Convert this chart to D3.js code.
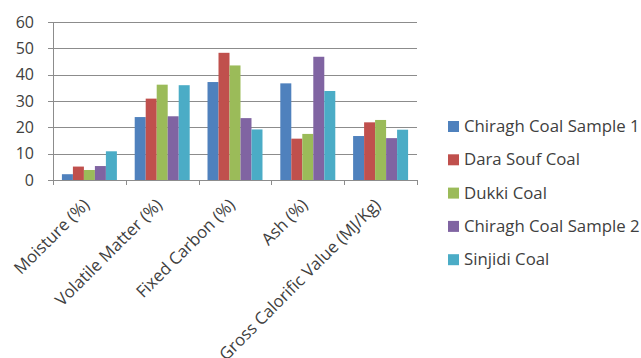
<!DOCTYPE html>
<html><head><meta charset="utf-8">
<script src="https://cdn.jsdelivr.net/npm/d3@7"></script>
<style>body{margin:0;background:#fff}svg{display:block}</style>
</head><body><svg id="c" width="641" height="358"></svg>
<script>
const categories = ["Moisture (%)", "Volatile Matter (%)", "Fixed Carbon (%)", "Ash (%)", "Gross Calorific Value (MJ/Kg)"];
const seriesNames = ["Chiragh Coal Sample 1", "Dara Souf Coal", "Dukki Coal", "Chiragh Coal Sample 2", "Sinjidi Coal"];
const chiragh1 = [2.2, 23.9, 37.2, 36.7, 16.7];
const daraSouf = [5.1, 30.9, 48.3, 15.7, 21.9];
const dukki = [3.8, 36.2, 43.5, 17.5, 22.8];
const chiragh2 = [5.3, 24.2, 23.5, 46.8, 15.9];
const sinjidi = [10.9, 36.0, 19.2, 33.8, 19.1];
const yTicks = [0, 10, 20, 30, 40, 50, 60];
const colors = ["#4F81BD", "#C0504D", "#9BBB59", "#8064A2", "#4BACC6"];
const seriesValues = [chiragh1, daraSouf, dukki, chiragh2, sinjidi];

const svg = d3.select("#c");
const font = "'Open Sans', sans-serif";
const textColor = "#404040";
const x0 = d3.scaleBand().domain(categories).range([53, 417]).paddingInner(0).paddingOuter(0);
const x1 = d3.scaleBand().domain(seriesNames).range([0, x0.bandwidth()]).paddingOuter(0.81).paddingInner(0);
const y = d3.scaleLinear().domain([0, 60]).range([180, 22]);

// gridlines
svg.append("g").selectAll("line").data(yTicks).join("line")
  .attr("x1", 48).attr("x2", 417)
  .attr("y1", d => Math.round(y(d)) + 0.5).attr("y2", d => Math.round(y(d)) + 0.5)
  .attr("stroke", "#8c8c8c").attr("stroke-width", 1);
// y axis line
svg.append("line").attr("x1", 53.5).attr("x2", 53.5).attr("y1", y(60)).attr("y2", y(0))
  .attr("stroke", "#8c8c8c");
// y labels
svg.append("g").selectAll("text").data(yTicks).join("text")
  .attr("x", 34).attr("y", d => y(d)).attr("dy", "0.36em")
  .attr("text-anchor", "end").attr("font-family", font).attr("font-size", 16)
  .attr("fill", textColor).text(d => d);
// category ticks
const bounds = categories.map(c => x0(c)).concat([x0.range()[1]]);
svg.append("g").selectAll("line").data(bounds).join("line")
  .attr("x1", d => Math.round(d) + 0.5).attr("x2", d => Math.round(d) + 0.5)
  .attr("y1", y(0)).attr("y2", y(0) + 5).attr("stroke", "#8c8c8c");

// bars
const groups = svg.append("g").selectAll("g").data(categories).join("g")
  .attr("transform", c => `translate(${x0(c)},0)`);
groups.selectAll("rect").data((c, i) => seriesNames.map((s, j) => ({s, j, v: seriesValues[j][i]})))
  .join("rect")
  .attr("x", d => x1(d.s)).attr("width", x1.bandwidth())
  .attr("y", d => y(d.v)).attr("height", d => y(0) - y(d.v))
  .attr("fill", d => colors[d.j]);

// category labels
svg.append("g").selectAll("text").data(categories).join("text")
  .attr("transform", c => `translate(${x0(c) + x0.bandwidth()/2 + 1},${y(0) + 26}) rotate(-45)`)
  .attr("text-anchor", "end")
  .attr("font-family", font).attr("font-size", 16.8).attr("fill", textColor).text(c => c);

// legend
const leg = svg.append("g").selectAll("g").data(seriesNames).join("g")
  .attr("transform", (s, i) => `translate(448,${126 + i * 33.3})`);
leg.append("rect").attr("x", 0).attr("y", -5).attr("width", 11).attr("height", 11)
  .attr("fill", (s, i) => colors[i]);
leg.append("text").attr("x", 16).attr("y", 0).attr("dy", "0.36em")
  .attr("font-family", font).attr("font-size", 16.8).attr("fill", textColor).text(s => s);
</script></body></html>
